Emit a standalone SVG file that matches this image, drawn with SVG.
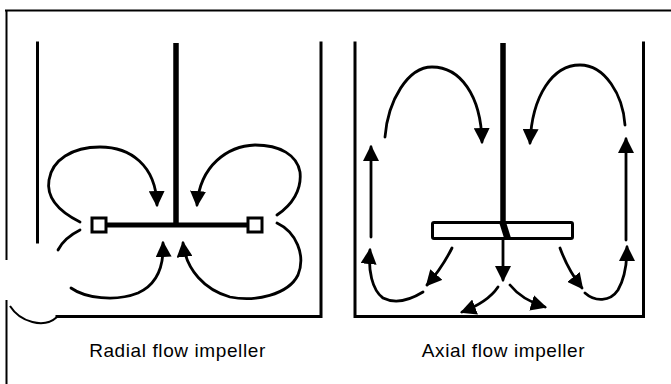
<svg xmlns="http://www.w3.org/2000/svg" width="671" height="384" viewBox="0 0 671 384">
  <style>
    .frame { fill: none; stroke: #000; stroke-width: 2; }
    .wall { fill: none; stroke: #000; stroke-width: 3; stroke-linecap: square; }
    .shaft { fill: none; stroke: #000; stroke-width: 5.5; }
    .flow { fill: none; stroke: #000; stroke-width: 2.8; stroke-linecap: round; }
    .arrow { marker-end: url(#head); }
    .label { font-family: "Liberation Sans", Arial, sans-serif; font-size: 19px; letter-spacing: 0.6px; fill: #000; text-anchor: middle; }
  </style>
  <defs>
    <marker id="head" viewBox="0 0 16 16" refX="14" refY="8" markerWidth="16" markerHeight="16" markerUnits="userSpaceOnUse" orient="auto">
      <path d="M0,0 L16,8 L0,16 z" fill="#000"/>
    </marker>
  </defs>
  <rect width="671" height="384" fill="#fff"/>

  <!-- outer frame with the notch at lower left -->
  <g id="frame">
    <path class="frame" d="M5,10.5 H671"/>
    <path class="frame" d="M6.5,10 V260 M6.5,300 V384"/>
    <path class="frame" d="M10,306 C20,322 44,329 57,317" stroke-width="2.5"/>
  </g>

  <!-- radial flow tank -->
  <g id="radial-tank">
    <path class="wall" d="M37.5,43 V242"/>
    <path class="wall" d="M57,316.5 H321 V43"/>
    <path class="shaft" d="M176,43 V226"/>
    <path d="M106,225 H249" stroke="#000" stroke-width="5"/>
    <rect x="92" y="218" width="14" height="14" fill="#fff" stroke="#000" stroke-width="3"/>
    <rect x="248" y="218" width="14" height="14" fill="#fff" stroke="#000" stroke-width="3"/>
  </g>

  <!-- axial flow tank -->
  <g id="axial-tank">
    <path class="wall" d="M355,43 V316.5 H643.5 V43"/>
    <path class="shaft" d="M503,43 V223"/>
    <rect x="432.5" y="222.5" width="140" height="16" rx="1.5" fill="#fff" stroke="#000" stroke-width="3"/>
    <polygon points="499,222 506,222 511,238 504,238" fill="#000"/>
  </g>

  <!-- circulation arrows -->
  <g id="connectors">
    <!-- radial -->
    <path class="flow arrow" d="M80,222 C60,212 46,198 49,180 C52,160 72,147 100,147 C130,147 156,165 157,205"/>
    <path class="flow arrow" d="M277,215 C292,205 302,190 300,172 C297,155 280,145 255,145 C228,146 200,165 197,205"/>
    <path class="flow" d="M80,230 C70,235 62,242 58,250"/>
    <path class="flow arrow" d="M71,288 C85,298 115,302 138,293 C158,284 164,265 163,243"/>
    <path class="flow arrow" d="M277,223 C296,232 306,255 298,275 C288,295 255,302 230,297 C205,290 186,270 183,243"/>
    <!-- axial -->
    <path class="flow arrow" d="M385,137 C388,100 408,67 432,67 C460,67 481,95 482,142"/>
    <path class="flow arrow" d="M625,125 C623,95 605,65 580,65 C553,65 532,95 530,143"/>
    <path class="flow arrow" d="M371,237 V147"/>
    <path class="flow arrow" d="M626,240 V139"/>
    <path class="flow arrow" d="M423,292 C410,300 395,304 383,298 C372,290 368,270 370,250"/>
    <path class="flow arrow" d="M452,248 Q442,268 427,285"/>
    <path class="flow arrow" d="M503,239 V280"/>
    <path class="flow arrow" d="M498,287 Q488,302 462,312"/>
    <path class="flow arrow" d="M510,285 Q522,300 545,307"/>
    <path class="flow arrow" d="M560,248 Q568,270 582,288"/>
    <path class="flow arrow" d="M585,293 C595,302 610,302 618,290 C625,278 627,265 627,247"/>
  </g>

  <g id="labels">
    <text class="label" x="177.5" y="357">Radial flow impeller</text>
    <text class="label" x="503.5" y="357">Axial flow impeller</text>
  </g>
</svg>
